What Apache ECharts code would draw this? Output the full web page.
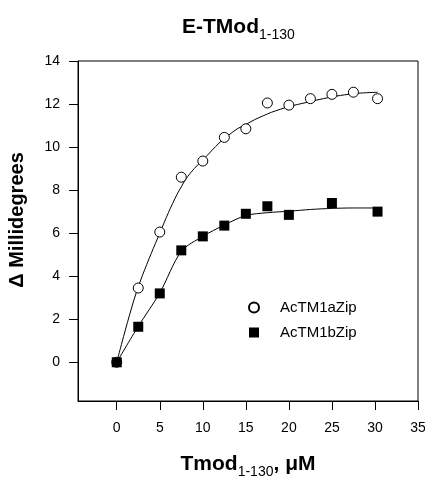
<!DOCTYPE html>
<html>
<head>
<meta charset="utf-8">
<script src="https://cdn.jsdelivr.net/npm/echarts@6/dist/echarts.min.js"></script>
<style>
  html, body { margin: 0; padding: 0; background: #fff; }
  #chart { width: 425px; height: 477px; }
</style>
</head>
<body>
<div id="chart"></div>
<script>
// Measured CD signal (ellipticity change) vs. Tmod concentration
const aZipX = [0, 2.5, 5, 7.5, 10, 12.5, 15, 17.5, 20, 22.5, 25, 27.5, 30.3];
const aZipY = [0, 3.45, 6.05, 8.6, 9.35, 10.45, 10.85, 12.05, 11.95, 12.25, 12.45, 12.55, 12.25];
const bZipX = [0, 2.5, 5, 7.5, 10, 12.5, 15, 17.5, 20, 25, 30.3];
const bZipY = [0, 1.65, 3.2, 5.2, 5.85, 6.35, 6.9, 7.25, 6.85, 7.4, 7.0];

// Fitted binding curves
const fitAX = [0, 1, 2, 2.5, 3, 4, 5, 6, 7, 7.5, 8, 9, 10, 11, 12, 13, 14, 15, 16, 17, 18, 20, 22, 24, 26, 28, 30.3];
const fitAY = [0, 1.5, 2.9, 3.5, 4.05, 5.05, 6.0, 6.95, 7.8, 8.15, 8.5, 9.0, 9.4, 9.82, 10.23, 10.55, 10.85, 11.05, 11.27, 11.45, 11.62, 11.88, 12.07, 12.25, 12.4, 12.5, 12.55];
const fitBX = [0, 2.5, 5, 7.5, 10, 12.5, 15, 17.5, 20, 22.5, 25, 27.5, 30.3];
const fitBY = [0, 1.67, 3.22, 5.15, 5.85, 6.38, 6.82, 6.95, 7.02, 7.1, 7.15, 7.17, 7.17];

// Axis ticks
const xTicks = [0, 5, 10, 15, 20, 25, 30, 35];
const yTicks = [0, 2, 4, 6, 8, 10, 12, 14];

const zip = (xs, ys) => xs.map((x, i) => [x, ys[i]]);
const FONT = "'Liberation Sans', Arial, sans-serif";

const chart = echarts.init(document.getElementById('chart'), null, { renderer: 'canvas' });

chart.setOption({
  backgroundColor: '#fff',
  animation: false,
  title: {
    text: '{a|E-TMod}{b|1-130}',
    left: 177,
    top: 9,
    textStyle: {
      rich: {
        a: { fontFamily: FONT, fontSize: 21, fontWeight: 'bold', color: '#000', lineHeight: 26 },
        b: { fontFamily: FONT, fontSize: 14, fontWeight: 'normal', color: '#000', padding: [16, 0, 0, 0], lineHeight: 26 }
      }
    }
  },
  grid: {
    left: 78, top: 61, width: 340, height: 340,
    outerBoundsMode: 'none',
    containLabel: false,
    show: true, borderColor: '#000', borderWidth: 1, backgroundColor: 'transparent'
  },
  legend: {
    orient: 'vertical',
    left: 243,
    top: 295,
    itemWidth: 10,
    itemHeight: 10,
    itemGap: 10,
    data: [
      { name: 'AcTM1aZip', icon: 'circle' },
      { name: 'AcTM1bZip', icon: 'rect' }
    ],
    textStyle: { fontFamily: FONT, fontSize: 15, color: '#000', padding: [0, 0, 0, 16] }
  },
  xAxis: {
    type: 'value',
    min: -4.5,
    max: 35,
    splitLine: { show: false },
    axisLine: { show: true, onZero: false, lineStyle: { color: '#000', width: 1 } },
    axisTick: { show: true, inside: false, length: 9, lineStyle: { color: '#000' }, customValues: xTicks },
    axisLabel: { fontFamily: FONT, fontSize: 14, color: '#000', margin: 20, customValues: xTicks },
    name: '{a|Tmod}{b|1-130}{a|, μM}',
    nameLocation: 'middle',
    nameGap: 50,
    nameTextStyle: {
      rich: {
        a: { fontFamily: FONT, fontSize: 21, fontWeight: 'bold', color: '#000', lineHeight: 26 },
        b: { fontFamily: FONT, fontSize: 14, fontWeight: 'normal', color: '#000', padding: [16, 0, 0, 0], lineHeight: 26 }
      }
    }
  },
  yAxis: {
    type: 'value',
    min: -1.8,
    max: 14,
    splitLine: { show: false },
    axisLine: { show: true, onZero: false, lineStyle: { color: '#000', width: 1 } },
    axisTick: { show: true, inside: false, length: 9, lineStyle: { color: '#000' }, customValues: yTicks },
    axisLabel: { fontFamily: FONT, fontSize: 14, color: '#000', margin: 18, customValues: yTicks },
    name: 'Δ Millidegrees',
    nameLocation: 'middle',
    nameRotate: 90,
    nameGap: 51,
    nameTextStyle: { fontFamily: FONT, fontSize: 20, fontWeight: 'bold', color: '#000', padding: [0, 0, 0, 22] }
  },
  series: [
    {
      name: 'fitA',
      type: 'line',
      data: zip(fitAX, fitAY),
      showSymbol: false,
      smooth: 0.3,
      lineStyle: { color: '#000', width: 1 },
      silent: true,
      z: 1
    },
    {
      name: 'fitB',
      type: 'line',
      data: zip(fitBX, fitBY),
      showSymbol: false,
      smooth: 0.3,
      lineStyle: { color: '#000', width: 1 },
      silent: true,
      z: 1
    },
    {
      name: 'AcTM1aZip',
      type: 'scatter',
      data: zip(aZipX, aZipY),
      symbol: 'circle',
      symbolSize: 10,
      itemStyle: { color: '#fff', borderColor: '#000', borderWidth: 1, opacity: 1 },
      z: 3
    },
    {
      name: 'AcTM1bZip',
      type: 'scatter',
      data: zip(bZipX, bZipY),
      symbol: 'rect',
      symbolSize: 10,
      itemStyle: { color: '#000', opacity: 1 },
      z: 4
    }
  ]
});
</script>
</body>
</html>
